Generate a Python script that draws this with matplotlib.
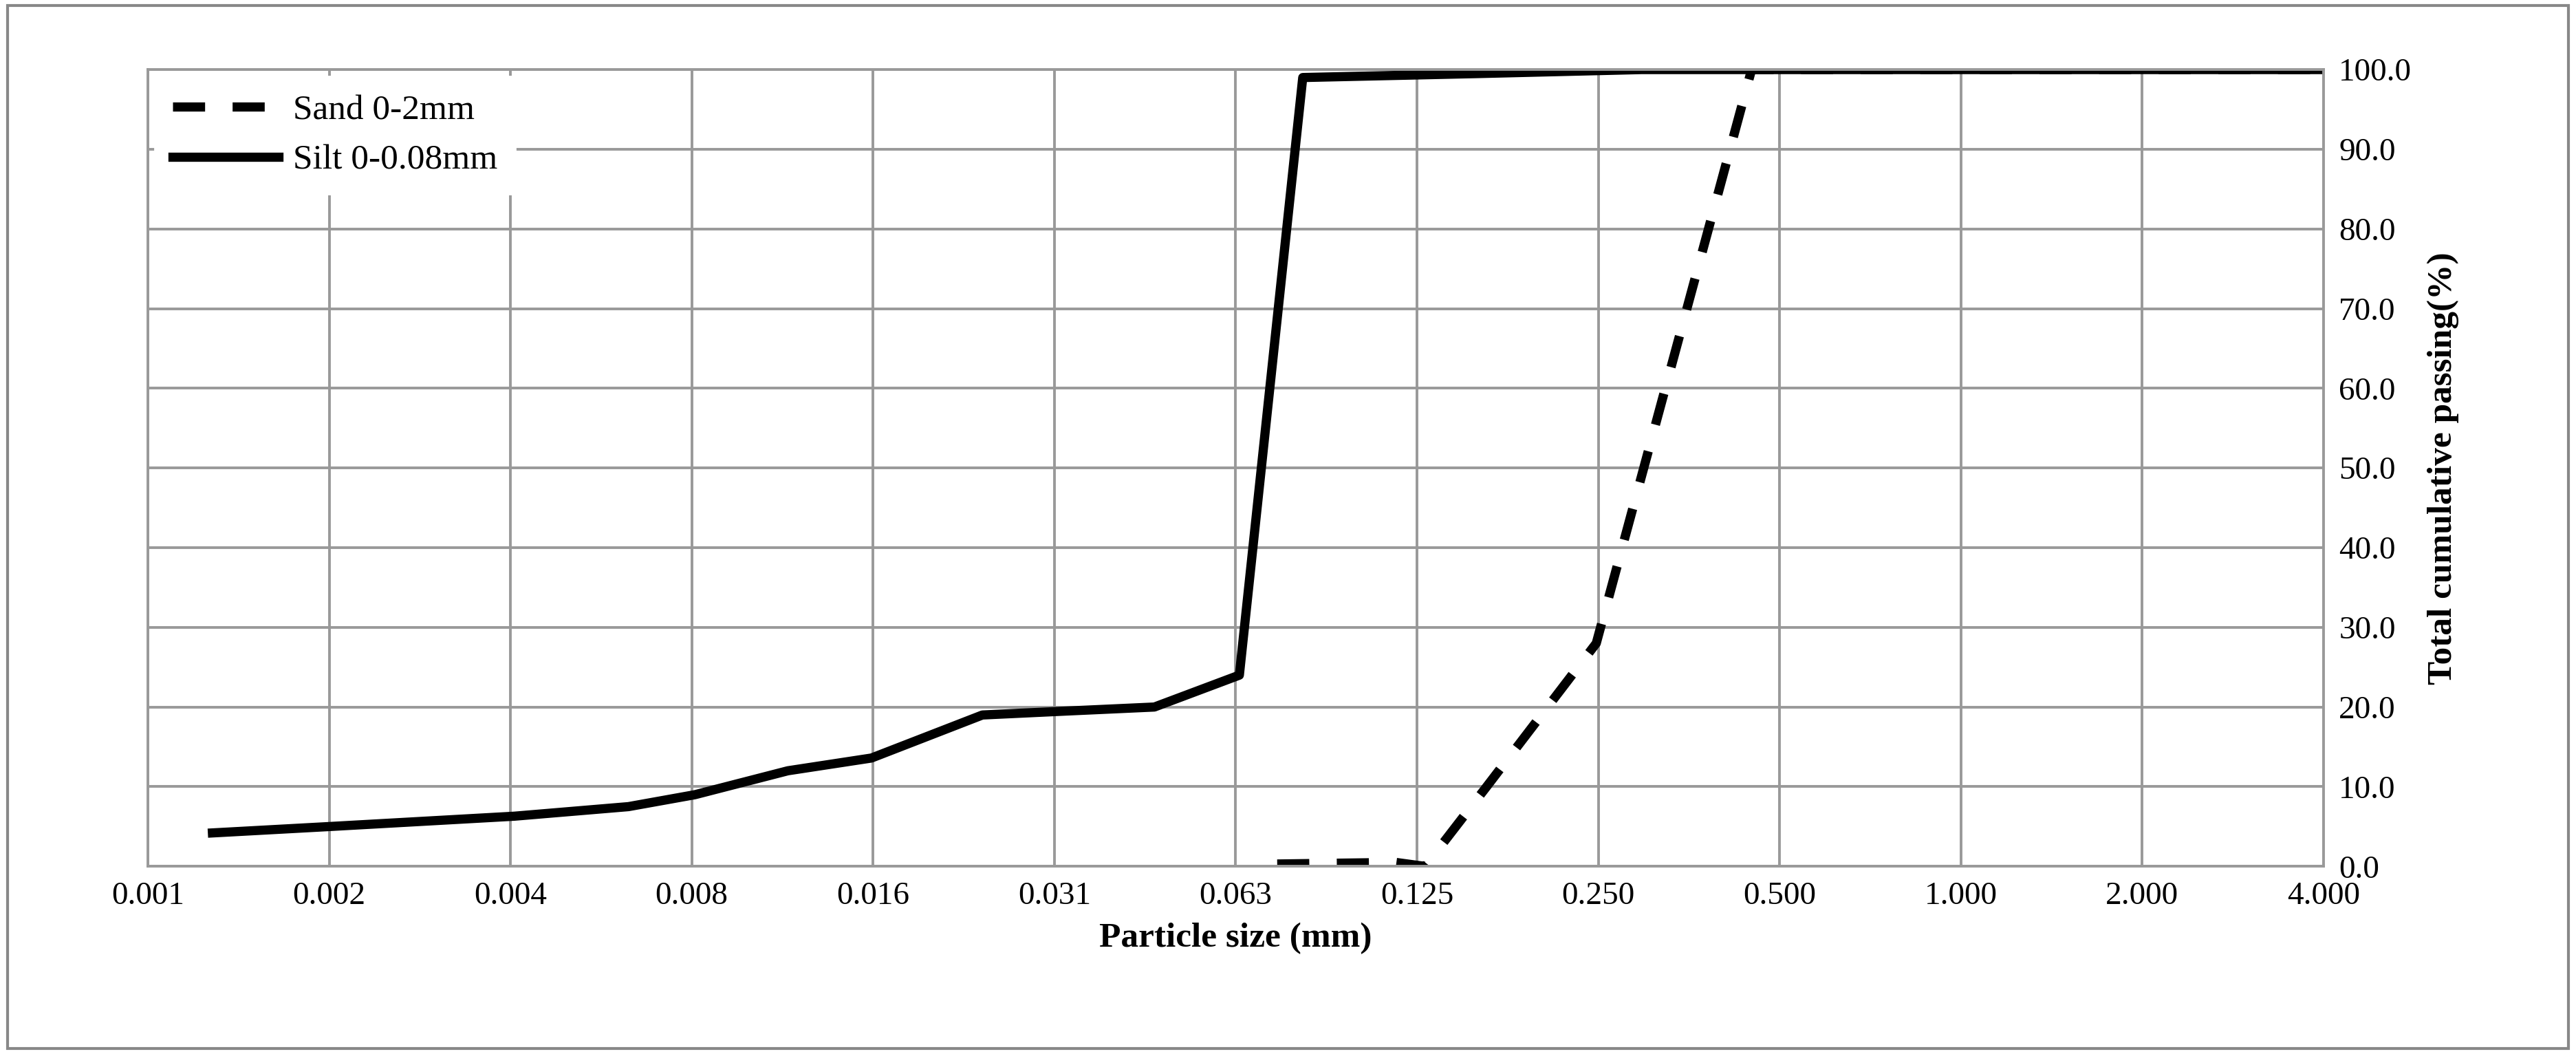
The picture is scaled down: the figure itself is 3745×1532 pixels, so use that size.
import numpy as np
import matplotlib.pyplot as plt
from matplotlib.lines import Line2D

plt.rcParams['font.family'] = ['Liberation Serif', 'DejaVu Serif']

# particle size (mm) and cumulative passing (%)
silt_size = [0.00128, 0.002, 0.00406, 0.00628, 0.0081, 0.01155, 0.0159, 0.0192,
             0.0243, 0.0336, 0.0469, 0.0649, 0.0827, 0.162, 0.302, 4.096]
silt_pass = [4.2, 5.0, 6.3, 7.5, 9.0, 12.0, 13.6, 16.0,
             19.0, 19.5, 20.0, 24.0, 99.0, 99.5, 100.0, 100.0]

sand_size = [0.075, 0.118, 0.132, 0.167, 0.254, 0.46, 0.5, 1.0, 2.0, 4.096]
sand_pass = [0.3, 0.5, 0.0, 10.0, 28.0, 100.0, 100.0, 100.0, 100.0, 100.0]

tick_labels = ["0.001", "0.002", "0.004", "0.008", "0.016", "0.031", "0.063",
               "0.125", "0.250", "0.500", "1.000", "2.000", "4.000"]
y_ticks = np.arange(0, 101, 10)

fig = plt.figure(figsize=(18.725, 7.66), dpi=200)
ax = fig.add_axes([0.0574, 0.178, 0.8446, 0.756])

ax.plot(sand_size, sand_pass, color='black', lw=4.8, dashes=(3.5, 3))
ax.plot(silt_size, silt_pass, color='black', lw=4.8)

ax.set_xscale('log', base=2)
xt = [0.001 * 2 ** k for k in range(13)]
ax.set_xlim(xt[0], xt[-1])
ax.set_xticks(xt)
ax.set_xticklabels(tick_labels)
ax.minorticks_off()
ax.set_ylim(0, 100)
ax.yaxis.tick_right()
ax.yaxis.set_label_position('right')
ax.set_yticks(y_ticks)
ax.set_yticklabels([f"{v:.1f}" for v in y_ticks])
ax.tick_params(length=0, labelsize=17, pad=8)
ax.grid(True, color='#999999', lw=1.4)
for s in ax.spines.values():
    s.set_color('#999999')
    s.set_linewidth(1.4)

ax.set_xlabel('Particle size (mm)', fontsize=18.5, fontweight='bold', labelpad=6)
ax.set_ylabel('Total cumulative passing(%)', fontsize=18.5, fontweight='bold', labelpad=8)

handles = [Line2D([], [], color='black', lw=4.8, dashes=(3.5, 3)),
           Line2D([], [], color='black', lw=4.8)]
leg = ax.legend(handles, ['Sand 0-2mm', 'Silt 0-0.08mm'], loc='upper left',
                fontsize=18.5, frameon=True, fancybox=False, handlelength=3.0,
                borderaxespad=0.2, borderpad=0.5, labelspacing=0.5, handletextpad=0.4)
leg.get_frame().set_edgecolor('white')
leg.get_frame().set_alpha(1)

fig.patches.append(plt.Rectangle((0.003, 0.005), 0.994, 0.99, transform=fig.transFigure,
                                 fill=False, edgecolor='#888888', lw=1.5))

fig.savefig('out.png', dpi=200)
